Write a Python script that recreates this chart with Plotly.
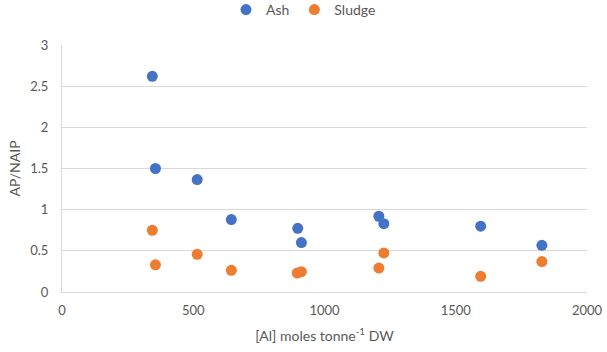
import plotly.graph_objects as go

al_moles = [344, 356, 515, 645, 898, 912, 1207, 1226, 1595, 1828]
ash = [2.62, 1.50, 1.365, 0.88, 0.774, 0.60, 0.92, 0.83, 0.80, 0.567]
al_moles_sludge = [344, 356, 515, 645, 896, 912, 1207, 1226, 1595, 1828]
sludge = [0.75, 0.33, 0.458, 0.263, 0.23, 0.247, 0.29, 0.474, 0.19, 0.37]

FONT = "Lato"
GRAY = "#595959"

fig = go.Figure()
fig.add_trace(go.Scatter(x=al_moles, y=ash, mode="markers", name="Ash",
                         marker=dict(color="#4472C4", size=11)))
fig.add_trace(go.Scatter(x=al_moles_sludge, y=sludge, mode="markers", name="Sludge",
                         marker=dict(color="#ED7D31", size=11)))

fig.update_layout(
    width=607, height=352,
    margin=dict(l=62, r=20, t=45, b=60, autoexpand=False),
    plot_bgcolor="white", paper_bgcolor="white",
    font=dict(family=FONT, color=GRAY, size=13),
    legend=dict(orientation="h", x=0.46, xanchor="center", y=1.142, yanchor="middle",
                font=dict(size=14, color=GRAY),
                itemwidth=30, tracegroupgap=0),
    xaxis=dict(range=[0, 2000], dtick=500, showgrid=False, automargin=False,
               showline=True, linecolor="#D9D9D9", linewidth=1,
               zeroline=False, ticks="outside", ticklen=6, tickcolor="rgba(0,0,0,0)",
               tickfont=dict(size=13, color=GRAY),
               title=dict(text="[Al] moles tonne<sup>-1</sup> DW", font=dict(size=14, color=GRAY), standoff=14)),
    yaxis=dict(range=[0, 3], dtick=0.5, showgrid=True, gridcolor="#D9D9D9", automargin=False,
               showline=True, linecolor="#D9D9D9", linewidth=1,
               zeroline=False, ticks="outside", ticklen=10, tickcolor="rgba(0,0,0,0)",
               tickfont=dict(size=13, color=GRAY),
               title=dict(text="AP/NAIP", font=dict(size=14, color=GRAY), standoff=6)),
)

fig.write_html("out.html", config={"displayModeBar": False},
               post_script="document.body.style.margin='0';")
